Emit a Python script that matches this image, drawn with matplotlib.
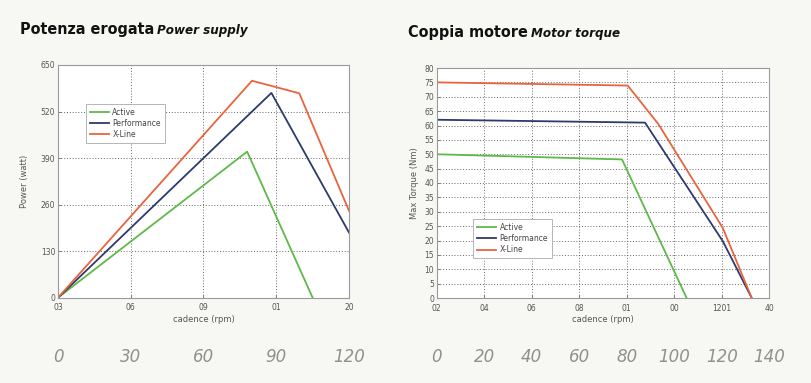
import matplotlib
matplotlib.use("Agg")
import matplotlib.pyplot as plt

# ---------------- data ----------------
series_names = ["Active", "Performance", "X-Line"]
series_colors = ["#5fb84a", "#2d3a6b", "#e8643f"]

# Power supply (cadence rpm, watt)
power_active_x = [0, 78, 105]
power_active_y = [0, 408, 0]
power_perf_x = [0, 88, 120]
power_perf_y = [0, 572, 182]
power_xline_x = [0, 80, 99.5, 120]
power_xline_y = [0, 606, 571, 243]

power_xticks = [0, 30, 60, 90, 120]
power_xticklabels = ["03", "06", "09", "01", "20"]
power_yticks = [0, 130, 260, 390, 520, 650]
power_hand_labels = ["0", "30", "60", "90", "120"]

# Motor torque (cadence rpm, Nm)
torque_active_x = [0, 78, 105.2]
torque_active_y = [50, 48.2, 0]
torque_perf_x = [0, 87.7, 120.4, 132.6]
torque_perf_y = [62, 61, 19.8, 0]
torque_xline_x = [0, 80.4, 93.3, 120.4, 132.6]
torque_xline_y = [75, 73.9, 60.5, 24.4, 0]

torque_xticks = [0, 20, 40, 60, 80, 100, 120, 140]
torque_xticklabels = ["02", "04", "06", "08", "01", "00", "1201", "40"]
torque_yticks = list(range(0, 81, 5))
torque_hand_labels = ["0", "20", "40", "60", "80", "100", "120", "140"]

# ---------------- figure ----------------
W, H = 812, 383
fig = plt.figure(figsize=(W / 100, H / 100), dpi=100)
fig.patch.set_facecolor("#f7f7f4")


def px_axes(x0, y0, x1, y1):
    return fig.add_axes([x0 / W, 1 - y1 / H, (x1 - x0) / W, (y1 - y0) / H])


def style_axes(ax):
    ax.set_facecolor("white")
    for s in ax.spines.values():
        s.set_color("#9a9a9a")
        s.set_linewidth(0.8)
    ax.grid(True, linestyle=(0, (1.2, 2.2)), color="#555555", linewidth=0.6)
    ax.tick_params(axis="both", labelsize=5.5, colors="#555555", length=2, width=0.5,
                   direction="in")
    ax.tick_params(axis="x", pad=4)
    ax.tick_params(axis="y", pad=2)


def add_legend(ax, anchor):
    leg = ax.legend(loc="upper left", bbox_to_anchor=anchor, fontsize=5.5,
                    frameon=True, fancybox=False, handlelength=2.6, borderpad=0.5,
                    labelspacing=0.3, handletextpad=0.4, framealpha=1)
    leg.get_frame().set_edgecolor("#aaaaaa")
    leg.get_frame().set_linewidth(0.6)
    for t in leg.get_texts():
        t.set_color("#444444")


# Left: Power supply
ax1 = px_axes(58, 65, 349, 297.7)
ax1.plot(power_active_x, power_active_y, color=series_colors[0], lw=1.3, label=series_names[0])
ax1.plot(power_perf_x, power_perf_y, color=series_colors[1], lw=1.3, label=series_names[1])
ax1.plot(power_xline_x, power_xline_y, color=series_colors[2], lw=1.3, label=series_names[2])
ax1.set_xlim(0, 120)
ax1.set_ylim(0, 650)
ax1.set_xticks(power_xticks)
ax1.set_xticklabels(power_xticklabels)
ax1.set_yticks(power_yticks)
style_axes(ax1)
ax1.set_ylabel("Power (watt)", fontsize=6, color="#555555", labelpad=8)
ax1.set_xlabel("cadence (rpm)", fontsize=6, color="#555555", labelpad=2)
add_legend(ax1, (0.082, 0.85))

# Right: Motor torque
ax2 = px_axes(436.7, 68, 769.3, 298)
ax2.plot(torque_active_x, torque_active_y, color=series_colors[0], lw=1.3, label=series_names[0])
ax2.plot(torque_perf_x, torque_perf_y, color=series_colors[1], lw=1.3, label=series_names[1])
ax2.plot(torque_xline_x, torque_xline_y, color=series_colors[2], lw=1.3, label=series_names[2])
ax2.set_xlim(0, 140)
ax2.set_ylim(0, 80)
ax2.set_xticks(torque_xticks)
ax2.set_xticklabels(torque_xticklabels)
ax2.set_yticks(torque_yticks)
style_axes(ax2)
ax2.set_ylabel("Max Torque (Nm)", fontsize=6, color="#555555", labelpad=4)
ax2.set_xlabel("cadence (rpm)", fontsize=6, color="#555555", labelpad=2)
add_legend(ax2, (0.097, 0.361))

# Handwritten cadence annotations under the axes
for ax, ticks, labels in ((ax1, power_xticks, power_hand_labels),
                          (ax2, torque_xticks, torque_hand_labels)):
    for xv, lab in zip(ticks, labels):
        xd, _ = ax.transData.transform((xv, 0))
        fig.text(xd / W, 1 - 357 / H, lab, fontsize=12, color="#909090", ha="center",
                 va="center", style="italic", fontweight="light")

# Titles (bold + bold italic parts)
renderer = fig.canvas.get_renderer()


def two_part_title(x_px, base_px, main, sub):
    t1 = fig.text(x_px / W, 1 - base_px / H, main, fontsize=11.5, fontweight="bold",
                  family="DejaVu Sans", fontstretch="condensed", color="#111111",
                  va="baseline", ha="left")
    bb = t1.get_window_extent(renderer=renderer)
    fig.text((bb.x1 + 3) / W, 1 - base_px / H, sub, fontsize=9.5, fontweight="bold",
             style="italic", family="DejaVu Sans", fontstretch="condensed",
             color="#111111", va="baseline", ha="left")


two_part_title(20, 34, "Potenza erogata", "Power supply")
two_part_title(408, 37, "Coppia motore", "Motor torque")

fig.savefig("out.png", dpi=100, facecolor=fig.get_facecolor())
